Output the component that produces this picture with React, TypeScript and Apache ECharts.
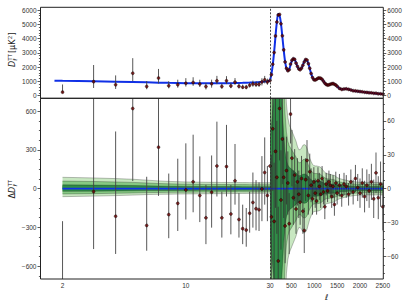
import React, { useEffect, useRef } from 'react';
import * as echarts from 'echarts';

// ---------------- data ----------------
// low-ell part (log axis, 2..29)
const lowEll = [2, 3, 4, 5, 6, 7, 8, 9, 10, 11, 12, 13, 14, 15, 16, 17, 18, 19, 20, 21, 22, 23, 24, 25, 26, 27, 28, 29];
const lowModelEll = [1.8, 2, 3, 4, 5, 6, 7, 8, 9, 10, 11, 12, 13, 14, 15, 16, 17, 18, 19, 20, 21, 22, 23, 24, 25, 26, 27, 28, 29, 30];
const lowModel = [1050, 1040, 1010, 980, 955, 935, 915, 900, 890, 880, 875, 870, 868, 868, 870, 873, 877, 882, 888, 895, 903, 912, 922, 933, 945, 958, 972, 990, 1020, 1050];
// residuals ΔD (μK²) and their error-bar ends
const lowRes = [-790, -23, -214, 621, -285, 321, -201, -114, -10, 53, -53, -226, -28, 176, -226, 171, -196, 61, -239, -310, -321, -191, -107, -155, -163, -2, 125, -53];
const lowResLo = [-850, -468, -506, 59, -481, -56, -384, -328, -239, -183, -259, -430, -302, -61, -379, -61, -354, -124, -379, -430, -450, -341, -302, -323, -328, -252, -124, -252];
const lowResHi = [-252, 1140, 443, 1675, 92, 960, 117, 232, 351, 418, 250, 30, 257, 519, -23, 494, 28, 346, -35, -124, -150, -23, 125, 66, 49, 252, 397, 176];
// low-ell model uncertainty band (1σ up / down), ell 2..30
const lowBandEll = [2, 3, 4, 5, 6, 7, 8, 9, 10, 11, 12, 13, 14, 15, 16, 17, 18, 19, 20, 21, 22, 23, 24, 25, 26, 27, 28, 29, 30];
const lowBandUp = [29.3, 27.7, 26, 24.3, 22, 20, 18.7, 18, 17.3, 17, 16.7, 16.5, 16.3, 16.2, 16, 16, 15.8, 15.7, 15.7, 15.6, 15.6, 15.5, 15.5, 15.5, 15.4, 15.4, 15.3, 15.3, 15.3];
const lowBandDn = [20.7, 19.3, 18, 16.7, 15.3, 14.7, 14.3, 14, 13.7, 13.5, 13.3, 13.2, 13.1, 13, 12.9, 12.8, 12.7, 12.6, 12.4, 12.3, 12.3, 12.2, 12.2, 12.1, 12.1, 12, 12, 12, 12];

// high-ell part (linear axis, 30..2500)
const highEll = [30, 60, 90, 120, 150, 180, 210, 240, 270, 300, 330, 360, 390, 420, 450, 480, 510, 540, 570, 600, 630, 660, 690, 720, 750, 780, 810, 840, 870, 900, 930, 960, 990, 1020, 1050, 1080, 1110, 1140, 1170, 1200, 1230, 1260, 1290, 1320, 1350, 1380, 1410, 1440, 1470, 1500, 1550, 1600, 1650, 1700, 1750, 1800, 1850, 1900, 1950, 2000, 2050, 2100, 2150, 2200, 2250, 2300, 2350, 2400, 2450, 2500];
const highModel = [1050, 1500, 2150, 3050, 4150, 5150, 5720, 5620, 5050, 4150, 3200, 2400, 1900, 1750, 1850, 2150, 2450, 2600, 2530, 2300, 2050, 1880, 1830, 1920, 2150, 2400, 2530, 2470, 2250, 1900, 1550, 1280, 1120, 1100, 1160, 1220, 1245, 1220, 1140, 1020, 890, 790, 745, 755, 800, 840, 850, 815, 745, 660, 510, 450, 470, 480, 450, 400, 355, 330, 315, 295, 270, 250, 230, 212, 195, 178, 160, 145, 130, 118];
const highRes = [20, -25, 53, -29, 33, 10, -64, 71, -10, 44, 10, -33, 16, 5, -31, 66, 27, -8, 12, -18, 6, -5, -12, 9, -20, -37, 8, 25, -6, 15, 3, -9, 6, -4, -11, 7, 2, -5, 9, -3, -16, 4, -2, 6, 3, -7, 2, -14, 5, -4, 3, -6, 4, 2, -5, 6, -3, 9, 1, -4, 5, -7, 3, -2, 6, -9, 14, -8, 4, -16];
const highErr = [60, 55, 55, 52, 50, 50, 48, 46, 44, 40, 36, 33, 30, 28, 27, 26, 25, 24, 23, 22, 21, 21, 20, 20, 20, 20, 19, 18, 17, 16, 15, 14, 13, 13, 12, 12, 12, 12, 11, 11, 11, 10, 10, 10, 10, 10, 10, 10, 10, 10, 10, 10, 10, 10, 10, 11, 11, 12, 12, 13, 13, 14, 14, 15, 16, 17, 18, 19, 20, 21];
const highSigma = [40, 55, 70, 85, 95, 105, 108, 105, 90, 70, 48, 33, 25, 21, 19, 18, 17, 16, 15, 14, 12.5, 11.5, 11.5, 12, 12.8, 13, 12.8, 12, 10.5, 9, 8, 7.2, 6.8, 6.7, 6.7, 6.6, 6.5, 6.3, 5.8, 5.3, 4.8, 4.5, 4.4, 4.3, 4.2, 4.1, 4.0, 3.9, 3.6, 3.3, 3.0, 2.8, 2.6, 2.5, 2.3, 2.2, 2.1, 2.0, 1.95, 1.9, 1.9, 1.9, 1.85, 1.85, 1.85, 1.85, 1.85, 1.85, 1.85, 1.85];

// tick labels
const topTicks = [0, 1000, 2000, 3000, 4000, 5000, 6000];
const topMinor = [200, 400, 600, 800, 1200, 1400, 1600, 1800, 2200, 2400, 2600, 2800, 3200, 3400, 3600, 3800, 4200, 4400, 4600, 4800, 5200, 5400, 5600, 5800];
const botLeftTicks = [-600, -300, 0, 300, 600];
const botLeftMinor = [-675, -525, -450, -375, -225, -150, -75, 75, 150, 225, 375, 450, 525, 675];
const botRightTicks = [-60, -30, 0, 30, 60];
const botRightMinor = [-75, -67.5, -52.5, -45, -37.5, -22.5, -15, -7.5, 7.5, 15, 22.5, 37.5, 45, 52.5, 67.5, 75];
const logTicks = [2, 10, 30];
const logMinor = [3, 4, 5, 6, 7, 8, 9, 20];
const linTicks = [500, 1000, 1500, 2000, 2500];
const linMinor = [100, 200, 300, 400, 600, 700, 800, 900, 1100, 1200, 1300, 1400, 1600, 1700, 1800, 1900, 2100, 2200, 2300, 2400];

// ---------------- layout ----------------
const GL = 40.5, GX = 270, GR = 383.3, T1 = 7.3, B1 = 98.3, B2 = 279;
const lab = { fontFamily: 'Liberation Sans, Arial, sans-serif', fontSize: 6.5, color: '#333' };
const tickLine = { color: '#333', width: 0.8 };
const plain = (v: any) => String(v).replace('-', '\u2212');
const bandColors: Record<number, string> = { 3: '#c8e7c1', 2: '#86c983', 1: '#2f8c46' };

function modelAt(l: number) {
  return lowModel[lowModelEll.indexOf(l)];
}

function errBars(xi: number, yi: number, data: number[][], color: string, width: number) {
  return {
    type: 'custom', xAxisIndex: xi, yAxisIndex: yi, clip: true, silent: true, z: 3,
    encode: { x: 0, y: [1, 2] },
    data,
    renderItem: (_p: any, api: any) => {
      const x = api.value(0);
      const a = api.coord([x, api.value(1)]);
      const b = api.coord([x, api.value(2)]);
      return { type: 'line', shape: { x1: a[0], y1: a[1], x2: b[0], y2: b[1] }, style: { stroke: color, lineWidth: width } };
    },
  };
}

function points(xi: number, yi: number, data: number[][]) {
  return {
    type: 'scatter', xAxisIndex: xi, yAxisIndex: yi, data, clip: true, silent: true, z: 4,
    symbol: 'circle', symbolSize: 3,
    itemStyle: { color: '#6b0000', borderColor: '#000', borderWidth: 0.5 },
  };
}

// shaded ±kσ bands, one polygon per level, drawn through the axes' coord()
function bands(xi: number, yi: number, ells: number[], up: number[], dn: number[]) {
  return [3, 2, 1].map((k) => ({
    type: 'custom', xAxisIndex: xi, yAxisIndex: yi, clip: true, silent: true, z: 1,
    encode: { x: 0, y: [1, 2] },
    data: ells.map((l, i) => [l, -k * dn[i], k * up[i]]),
    renderItem: (params: any, api: any) => {
      if (params.dataIndex !== 0) return null;
      const upper = ells.map((l, i) => api.coord([l, k * up[i]]));
      const lower = ells.map((l, i) => api.coord([l, -k * dn[i]]));
      const edge = { stroke: 'rgba(0,0,0,0.5)', lineWidth: 0.5, fill: 'none' };
      return {
        type: 'group',
        children: [
          { type: 'polygon', shape: { points: upper.concat(lower.slice().reverse()) }, style: { fill: bandColors[k], stroke: 'none' } },
          { type: 'polyline', shape: { points: upper }, style: edge },
          { type: 'polyline', shape: { points: lower }, style: edge },
        ],
      };
    },
  }));
}

const dashed30 = {
  silent: true, symbol: 'none', label: { show: false },
  lineStyle: { color: '#333', type: [2, 1.5], width: 0.9 },
  data: [{ xAxis: 30 }],
};

function yMajor(grid: number, pos: string, min: number, max: number, ticks: number[]) {
  return {
    gridIndex: grid, type: 'value', position: pos, min, max,
    axisLine: { show: false }, splitLine: { show: false },
    axisTick: { show: true, length: 3, customValues: ticks, lineStyle: tickLine },
    axisLabel: { show: true, customValues: ticks, margin: 4, formatter: plain, ...lab },
  };
}
function yMinor(grid: number, pos: string, min: number, max: number, ticks: number[]) {
  return {
    gridIndex: grid, type: 'value', position: pos, min, max,
    axisLine: { show: false }, splitLine: { show: false },
    axisTick: { show: true, length: 1.6, customValues: ticks, lineStyle: tickLine },
    axisLabel: { show: false },
  };
}

function yTitle(cx: number, cy: number, delta: boolean) {
  const f = '"DejaVu Sans", sans-serif';
  const t = (text: string, x: number, y: number, font: string) => ({
    type: 'text', x, y, silent: true,
    style: { text, font, fill: '#222', textAlign: 'left', align: 'left', textVerticalAlign: 'middle', verticalAlign: 'middle' },
  });
  const children = delta
    ? [
        t('\u0394', -10, 0, `8px ${f}`),
        t('D', -4.4, 0, `italic 8px ${f}`),
        t('TT', 1.9, -2.7, `5.5px ${f}`),
        t('\u2113', 1.9, 2.7, `italic 5.5px ${f}`),
      ]
    : [
        t('D', -18.5, 0, `italic 8px ${f}`),
        t('TT', -12.2, -2.7, `5.5px ${f}`),
        t('\u2113', -12.2, 2.7, `italic 5.5px ${f}`),
        t('[\u03bcK', -4.5, 0, `8px ${f}`),
        t('2', 9.3, -2.7, `5.5px ${f}`),
        t(']', 13, 0, `8px ${f}`),
      ];
  return { type: 'group', x: cx, y: cy, rotation: Math.PI / 2, children, z: 50 };
}

function buildOption() {
  const grid = [
    { left: GL, top: T1, width: GX - GL, height: B1 - T1 },
    { left: GX, top: T1, width: GR - GX, height: B1 - T1 },
    { left: GL, top: B1, width: GX - GL, height: B2 - B1 },
    { left: GX, top: B1, width: GR - GX, height: B2 - B1 },
  ].map((g) => ({ ...g, containLabel: false, outerBoundsMode: 'none', show: false }));

  const xAxis = [
    { gridIndex: 0, type: 'log', logBase: 10, min: 1.5, max: 30, show: false },
    { gridIndex: 1, type: 'value', min: 30, max: 2510, show: false },
    {
      gridIndex: 2, type: 'log', logBase: 10, min: 1.5, max: 30, position: 'bottom',
      axisLine: { show: false }, splitLine: { show: false },
      axisTick: { show: true, inside: true, length: 3, customValues: logTicks, lineStyle: tickLine },
      axisLabel: { show: true, customValues: logTicks, margin: 3, formatter: plain, ...lab },
    },
    {
      gridIndex: 3, type: 'value', min: 30, max: 2510, position: 'bottom',
      axisLine: { show: false }, splitLine: { show: false },
      axisTick: { show: true, inside: true, length: 3, customValues: linTicks, lineStyle: tickLine },
      axisLabel: { show: true, customValues: linTicks, margin: 3, formatter: plain, ...lab },
      name: '\u2113', nameLocation: 'middle', nameGap: 13,
      nameTextStyle: { fontFamily: 'DejaVu Sans', fontStyle: 'italic', fontSize: 8, color: '#222' },
    },
    {
      gridIndex: 2, type: 'log', logBase: 10, min: 1.5, max: 30, position: 'bottom',
      axisLine: { show: false }, splitLine: { show: false },
      axisTick: { show: true, inside: true, length: 1.8, customValues: logMinor, lineStyle: tickLine },
      axisLabel: { show: false },
    },
    {
      gridIndex: 3, type: 'value', min: 30, max: 2510, position: 'bottom',
      axisLine: { show: false }, splitLine: { show: false },
      axisTick: { show: true, inside: true, length: 1.8, customValues: linMinor, lineStyle: tickLine },
      axisLabel: { show: false },
    },
  ];

  const yAxis = [
    yMajor(0, 'left', -180, 6190, topTicks),
    yMinor(0, 'left', -180, 6190, topMinor),
    yMajor(1, 'right', -180, 6190, topTicks),
    yMinor(1, 'right', -180, 6190, topMinor),
    yMajor(2, 'left', -700, 700, botLeftTicks),
    yMinor(2, 'left', -700, 700, botLeftMinor),
    yMajor(3, 'right', -80, 80, botRightTicks),
    yMinor(3, 'right', -80, 80, botRightMinor),
  ];

  const blue = '#1030e6';
  const series: any[] = [
    // ---- top-left: low-ell spectrum
    {
      type: 'line', xAxisIndex: 0, yAxisIndex: 0, symbol: 'none', silent: true, clip: false, z: 2,
      lineStyle: { color: blue, width: 2 },
      data: lowModelEll.map((l, i) => [l, lowModel[i]]),
      markLine: dashed30,
    },
    errBars(0, 0, lowEll.map((l, i) => [l, modelAt(l) + lowResLo[i], modelAt(l) + lowResHi[i]]), '#444', 0.9),
    points(0, 0, lowEll.map((l, i) => [l, modelAt(l) + lowRes[i]])),
    // ---- top-right: high-ell spectrum
    {
      type: 'line', xAxisIndex: 1, yAxisIndex: 2, symbol: 'none', silent: true, clip: true, z: 2, smooth: 0.3,
      lineStyle: { color: blue, width: 2 },
      data: highEll.map((l, i) => [l, highModel[i]]),
    },
    errBars(1, 2, highEll.map((l, i) => [l, highModel[i] + highRes[i] - highErr[i], highModel[i] + highRes[i] + highErr[i]]), '#333', 0.8),
    points(1, 2, highEll.map((l, i) => [l, highModel[i] + highRes[i]])),
    // ---- bottom-left: low-ell residuals
    ...bands(2, 4, lowBandEll, lowBandUp, lowBandDn),
    {
      type: 'line', xAxisIndex: 2, yAxisIndex: 4, symbol: 'none', silent: true, clip: false, z: 2,
      lineStyle: { color: blue, width: 1.8 },
      data: lowBandEll.map((l) => [l, 0]),
      markLine: dashed30,
    },
    errBars(2, 4, lowEll.map((l, i) => [l, lowResLo[i], lowResHi[i]]), '#444', 0.9),
    points(2, 4, lowEll.map((l, i) => [l, lowRes[i]])),
    // ---- bottom-right: high-ell residuals
    ...bands(3, 6, highEll, highSigma, highSigma),
    {
      type: 'line', xAxisIndex: 3, yAxisIndex: 6, symbol: 'none', silent: true, clip: true, z: 2,
      lineStyle: { color: blue, width: 1.8 },
      data: highEll.map((l) => [l, 0]),
    },
    errBars(3, 6, highEll.map((l, i) => [l, highRes[i] - highErr[i], highRes[i] + highErr[i]]), '#333', 0.8),
    points(3, 6, highEll.map((l, i) => [l, highRes[i]])),
  ];

  const graphic = [
    { type: 'rect', silent: true, z: 100, shape: { x: GL, y: T1, width: GR - GL, height: B1 - T1 }, style: { fill: 'none', stroke: '#222', lineWidth: 1 } },
    { type: 'rect', silent: true, z: 100, shape: { x: GL, y: B1, width: GR - GL, height: B2 - B1 }, style: { fill: 'none', stroke: '#222', lineWidth: 1 } },
    yTitle(12.5, 48.5, false),
    yTitle(12.5, 188.5, true),
  ];

  return { animation: false, backgroundColor: '#fff', grid, xAxis, yAxis, series, graphic };
}

export default function App() {
  const ref = useRef<HTMLDivElement>(null);
  useEffect(() => {
    document.body.style.margin = '0';
    const chart = echarts.init(ref.current!, null, { renderer: 'svg' });
    chart.setOption(buildOption() as any);
    return () => chart.dispose();
  }, []);
  return <div ref={ref} style={{ width: 411, height: 308 }} />;
}
